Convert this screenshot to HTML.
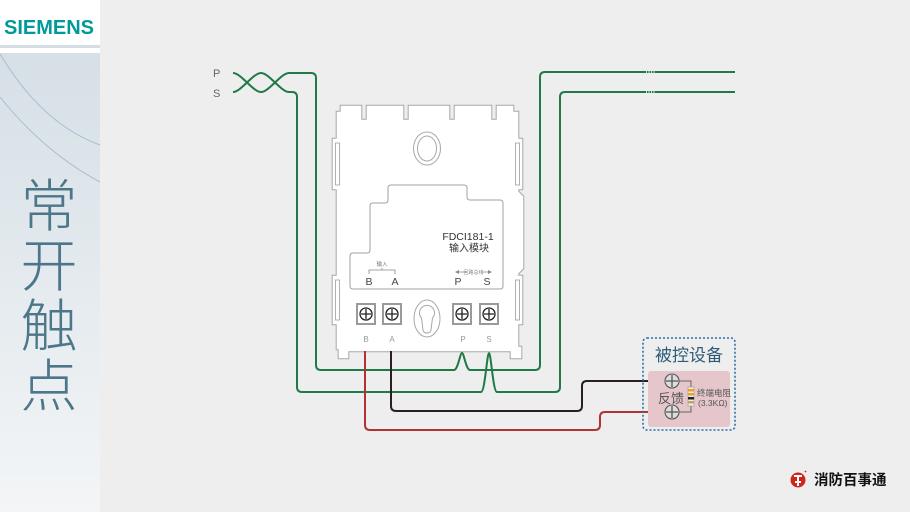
<!DOCTYPE html>
<html><head><meta charset="utf-8"><style>
html,body{margin:0;padding:0;width:910px;height:512px;overflow:hidden;background:#eeeeee;}
svg{display:block;}
text{font-family:"Liberation Sans","Noto Sans CJK SC",sans-serif;}
</style></head><body>
<svg width="910" height="512" viewBox="0 0 910 512" xmlns="http://www.w3.org/2000/svg">
<defs>
<linearGradient id="sb" x1="0" y1="0" x2="0" y2="1">
<stop offset="0" stop-color="#d2dde4"/>
<stop offset="1" stop-color="#f3f5f7"/>
</linearGradient>
</defs>
<rect x="0" y="0" width="910" height="512" fill="#eeeeee"/>
<!-- sidebar -->
<rect x="0" y="0" width="100" height="512" fill="url(#sb)"/>
<rect x="0" y="0" width="100" height="45" fill="#ffffff"/>
<rect x="0" y="45" width="100" height="3" fill="#d3dee5"/>
<rect x="0" y="48" width="100" height="5" fill="#ffffff"/>
<path d="M0,54 Q42,124 100,145" fill="none" stroke="#a9bfca" stroke-width="1"/>
<path d="M0,97 Q44,152 100,182" fill="none" stroke="#a9bfca" stroke-width="1"/>
<text x="4" y="34" font-size="20" font-weight="bold" fill="#009a9a">SIEMENS</text>
<g font-size="57" fill="#4c7689" text-anchor="middle" font-weight="300">
<text x="49" y="226" style="font-family:'Noto Sans CJK SC',sans-serif">常</text>
<text x="49" y="286" style="font-family:'Noto Sans CJK SC',sans-serif">开</text>
<text x="49" y="346" style="font-family:'Noto Sans CJK SC',sans-serif">触</text>
<text x="49" y="406" style="font-family:'Noto Sans CJK SC',sans-serif">点</text>
</g>

<!-- P S labels -->
<text x="213" y="77" font-size="11" fill="#666">P</text>
<text x="213" y="97" font-size="11" fill="#666">S</text>

<!-- module body -->
<path d="M342,107 L360,107 L360,121 L368,121 L368,107 L402,107 L402,121 L410,121 L410,107 L448,107 L448,121 L456,121 L456,107 L490,107 L490,121 L498,121 L498,107 L512,107 L512,113 L517,113 L517,140 L521,140 L521,188 L517,188 L517,192 L522,197 L522,268 L517,273 L517,277 L521,277 L521,323 L517,323 L517,348 L520,348 L520,357 L512,357 L512,350 L347,350 L347,357 L340,357 L340,348 L338,348 L338,323 L334,323 L334,277 L338,277 L338,188 L334,188 L334,140 L338,140 L338,113 L342,113 Z" fill="#ffffff" stroke="#a8a8a8" stroke-width="4.6" stroke-linejoin="miter"/>
<path d="M342,107 L360,107 L360,121 L368,121 L368,107 L402,107 L402,121 L410,121 L410,107 L448,107 L448,121 L456,121 L456,107 L490,107 L490,121 L498,121 L498,107 L512,107 L512,113 L517,113 L517,140 L521,140 L521,188 L517,188 L517,192 L522,197 L522,268 L517,273 L517,277 L521,277 L521,323 L517,323 L517,348 L520,348 L520,357 L512,357 L512,350 L347,350 L347,357 L340,357 L340,348 L338,348 L338,323 L334,323 L334,277 L338,277 L338,188 L334,188 L334,140 L338,140 L338,113 L342,113 Z" fill="#ffffff" stroke="#ffffff" stroke-width="2.6"/>
<!-- tab slots -->
<g fill="none" stroke="#a8a8a8" stroke-width="0.9">
<rect x="335.5" y="143" width="4" height="42"/>
<rect x="515.5" y="143" width="4" height="42"/>
<rect x="335.5" y="280" width="4" height="40"/>
<rect x="515.5" y="280" width="4" height="40"/>
</g>
<!-- top keyhole -->
<ellipse cx="427" cy="148.5" rx="13.5" ry="16.5" fill="#fff" stroke="#a8a8a8" stroke-width="1"/>
<ellipse cx="427" cy="148.5" rx="9.5" ry="12.5" fill="#fff" stroke="#a8a8a8" stroke-width="1"/>
<!-- inner label panel -->
<path d="M388,188 Q388,185 391,185 L464,185 Q467,185 467,188 L467,197 Q467,200 470,200 L500,200 Q503,200 503,203 L503,286 Q503,289 500,289 L353,289 Q350,289 350,286 L350,256 Q350,253 353,253 L367,253 Q370,253 370,250 L370,206 Q370,203 373,203 L385,203 Q388,203 388,200 Z" fill="#ffffff" stroke="#a0a0a0" stroke-width="1"/>
<text x="468" y="240" font-size="10.5" fill="#333" text-anchor="middle">FDCI181-1</text>
<text x="469" y="251.5" font-size="10" fill="#333" text-anchor="middle" style="font-family:'Noto Sans CJK SC',sans-serif">输入模块</text>
<!-- input bracket -->
<path d="M369,274 L369,270 L395,270 L395,274 M382,270 L382,268" fill="none" stroke="#888" stroke-width="0.8"/>
<text x="382" y="266" font-size="5.5" fill="#777" text-anchor="middle" style="font-family:'Noto Sans CJK SC',sans-serif">输入</text>
<path d="M458,272 L466,272 M481,272 L489,272" stroke="#888" stroke-width="0.8"/>
<path d="M455,272 L459,270 L459,274 Z M492,272 L488,270 L488,274 Z" fill="#888"/>
<text x="473.5" y="274" font-size="5" fill="#888" text-anchor="middle" style="font-family:'Noto Sans CJK SC',sans-serif">回路总线</text>
<g font-size="10.5" fill="#444" text-anchor="middle">
<text x="369" y="285">B</text>
<text x="395" y="285">A</text>
<text x="458" y="285">P</text>
<text x="487" y="285">S</text>
</g>
<!-- terminals -->
<g>
<rect x="357" y="304" width="18" height="20" fill="#fff" stroke="#9a9a9a" stroke-width="2"/>
<rect x="383" y="304" width="18" height="20" fill="#fff" stroke="#9a9a9a" stroke-width="2"/>
<rect x="453" y="304" width="18" height="20" fill="#fff" stroke="#9a9a9a" stroke-width="2"/>
<rect x="480" y="304" width="18" height="20" fill="#fff" stroke="#9a9a9a" stroke-width="2"/>
</g>
<g fill="#fff" stroke="#222" stroke-width="1.3">
<circle cx="366" cy="314" r="6"/>
<circle cx="392" cy="314" r="6"/>
<circle cx="462" cy="314" r="6"/>
<circle cx="489" cy="314" r="6"/>
</g>
<path d="M361,314 L371,314 M366,309 L366,319 M387,314 L397,314 M392,309 L392,319 M457,314 L467,314 M462,309 L462,319 M484,314 L494,314 M489,309 L489,319" stroke="#222" stroke-width="1.3"/>
<!-- bottom keyhole -->
<ellipse cx="427" cy="318.5" rx="13" ry="18.5" fill="#fff" stroke="#a8a8a8" stroke-width="1"/>
<path d="M421.5,318 A7.5,7.5 0 1 1 432.5,318 L431,330 Q430.5,333 427,333 Q423.5,333 423,330 Z" fill="#fff" stroke="#a8a8a8" stroke-width="1"/>
<g font-size="8" fill="#999" text-anchor="middle">
<text x="366" y="342">B</text>
<text x="392" y="342">A</text>
<text x="463" y="342">P</text>
<text x="489" y="342">S</text>
</g>

<!-- green wires -->
<g fill="none" stroke="#1f7a45" stroke-width="2" stroke-linejoin="round">
<path d="M233,73 C241,73 253,92 261,92 C269,92 281,73 289,73 L311,73 Q316,73 316,78 L316,365 Q316,370 321,370 L454,370 C458,370 460,353 462,353 C464,353 466,370 470,370 L535,370 Q540,370 540,365 L540,77 Q540,72 545,72 L735,72"/>
<path d="M233,92 C241,92 253,73 261,73 C269,73 281,92 289,92 L292,92 Q297,92 297,97 L297,387 Q297,392 302,392 L481,392 C485,392 487,353 489,353 C491,353 493,392 497,392 L555,392 Q560,392 560,387 L560,97 Q560,92 565,92 L735,92"/>
</g>
<path d="M646,72 L656,72 M646,92 L656,92" stroke="#cfe0d5" stroke-width="2" stroke-dasharray="1,1.5"/>
<!-- black wire -->
<path d="M391,351 L391,406 Q391,411 396,411 L577,411 Q582,411 582,406 L582,386 Q582,381 587,381 L672,381" fill="none" stroke="#2a201e" stroke-width="2"/>
<!-- red wire -->
<path d="M365,351 L365,425 Q365,430 370,430 L595,430 Q600,430 600,425 L600,417 Q600,412 605,412 L672,412" fill="none" stroke="#b03232" stroke-width="2"/>

<!-- controlled device -->
<rect x="643" y="338" width="92" height="92" rx="4" fill="none" stroke="#2d6ea6" stroke-width="1.6" stroke-dasharray="2,2"/>
<text x="689" y="361" font-size="17" fill="#2f5a78" text-anchor="middle" style="font-family:'Noto Sans CJK SC',sans-serif">被控设备</text>
<rect x="648" y="371" width="82" height="56" rx="3" fill="#e4c6cb"/>
<path d="M672,381 L691,381 L691,388 M691,406 L691,412 L672,412" fill="none" stroke="#666" stroke-width="1"/>
<rect x="688" y="387" width="6" height="19" fill="#eee" stroke="#999" stroke-width="0.6"/>
<rect x="688" y="389" width="6" height="2.5" fill="#f0a020"/>
<rect x="688" y="393" width="6" height="2.5" fill="#f0a020"/>
<rect x="688" y="397" width="6" height="2.5" fill="#222"/>
<rect x="688" y="401" width="6" height="2.5" fill="#c8a060"/>
<g fill="#ddd" stroke="#555" stroke-width="1.1">
<circle cx="672" cy="381" r="7"/>
<circle cx="672" cy="412" r="7"/>
</g>
<path d="M666,381 L678,381 M672,375 L672,387 M666,412 L678,412 M672,406 L672,418" stroke="#555" stroke-width="1.3"/>
<text x="671" y="403" font-size="13" fill="#555" text-anchor="middle" style="font-family:'Noto Sans CJK SC',sans-serif">反馈</text>
<text x="697" y="396" font-size="8.5" fill="#555" style="font-family:'Noto Sans CJK SC',sans-serif">终端电阻</text>
<text x="698" y="406" font-size="8.5" fill="#555">(3.3KΩ)</text>

<!-- logo -->
<circle cx="798" cy="480" r="7.5" fill="#d0241c"/>
<path d="M794,476 L802,476 M798,476 L798,486 M795,482 L801,482" stroke="#fff" stroke-width="2"/>
<circle cx="805.5" cy="471.5" r="0.9" fill="#d0241c"/>
<text x="814" y="485" font-size="14.5" font-weight="bold" fill="#111" style="font-family:'Noto Sans CJK SC',sans-serif">消防百事通</text>
</svg>
</body></html>
